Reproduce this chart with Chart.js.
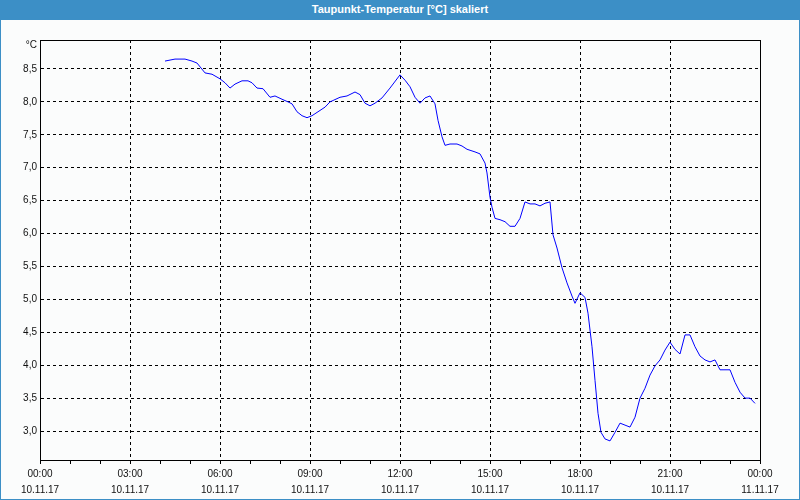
<!DOCTYPE html>
<html>
<head>
<meta charset="utf-8">
<script src="https://cdn.jsdelivr.net/npm/chart.js@4"></script>
<style>
  body { margin: 0; background: #fbfcfc; }
  #wrap { position: relative; width: 800px; height: 500px; }
  #chart { position: absolute; left: 0; top: 0; }
  #title {
    position: absolute; left: 0; top: 0; width: 800px; height: 20px;
    background: #3c8fc6; color: #fff; text-align: center;
    font: bold 11px "Liberation Sans", Arial, sans-serif; line-height: 18px;
  }
  #frame {
    position: absolute; left: 0; top: 0; width: 800px; height: 500px;
    box-sizing: border-box; border: 1px solid #3c8fc6; pointer-events: none;
  }
</style>
</head>
<body>
<div id="wrap">
  <canvas id="chart" width="800" height="500"></canvas>
  <div id="title">Taupunkt-Temperatur [°C] skaliert</div>
  <div id="frame"></div>
</div>
<script>
// minutes since 10.11.17 00:00
const minutes = [250, 270, 290, 304, 314, 330, 344, 360, 370, 380, 390, 404, 416, 424, 434, 446,
  460, 470, 484, 496, 504, 514, 524, 534, 544, 556, 570, 580, 600, 614, 630, 640,
  650, 660, 670, 684, 700, 720, 730, 740, 750, 760, 770, 780, 790, 796, 804, 810,
  820, 834, 844, 854, 870, 880, 890, 894, 900, 904, 910, 920, 930, 940, 950, 960,
  970, 980, 990, 1000, 1010, 1020, 1026, 1034, 1044, 1054, 1064, 1070, 1080, 1090, 1096, 1104,
  1110, 1116, 1122, 1130, 1140, 1150, 1160, 1170, 1180, 1190, 1200, 1210, 1220, 1230, 1240, 1250,
  1260, 1270, 1280, 1290, 1300, 1310, 1320, 1330, 1340, 1350, 1360, 1380, 1390, 1400, 1410, 1420, 1430];
const dewPoint = [8.62, 8.65, 8.65, 8.62, 8.59, 8.44, 8.42, 8.35, 8.29, 8.21, 8.27, 8.32, 8.32, 8.29, 8.21, 8.20,
  8.07, 8.09, 8.04, 8.00, 7.97, 7.85, 7.79, 7.76, 7.79, 7.85, 7.92, 8.00, 8.07, 8.09, 8.15, 8.11,
  7.98, 7.94, 7.98, 8.06, 8.21, 8.41, 8.33, 8.23, 8.07, 7.98, 8.06, 8.09, 7.97, 7.72, 7.47, 7.34,
  7.36, 7.36, 7.33, 7.28, 7.24, 7.21, 7.07, 6.92, 6.55, 6.40, 6.23, 6.21, 6.18, 6.11, 6.11, 6.23,
  6.48, 6.45, 6.45, 6.42, 6.46, 6.48, 5.98, 5.78, 5.48, 5.25, 5.05, 4.94, 5.10, 5.03, 4.79, 4.28,
  3.77, 3.27, 2.98, 2.88, 2.85, 2.98, 3.12, 3.09, 3.06, 3.21, 3.50, 3.65, 3.85, 3.99, 4.08, 4.23,
  4.35, 4.24, 4.17, 4.46, 4.46, 4.28, 4.14, 4.08, 4.05, 4.08, 3.93, 3.93, 3.74, 3.59, 3.50, 3.50, 3.42];
const yTicks = [3.0, 3.5, 4.0, 4.5, 5.0, 5.5, 6.0, 6.5, 7.0, 7.5, 8.0, 8.5];
const dates = ['10.11.17', '10.11.17', '10.11.17', '10.11.17', '10.11.17', '10.11.17', '10.11.17', '10.11.17', '11.11.17'];

const points = minutes.map((m, i) => ({ x: m, y: dewPoint[i] }));

Chart.defaults.font.family = '"Liberation Sans", Arial, sans-serif';
Chart.defaults.font.size = 10;
Chart.defaults.color = '#111';

const frameAndUnit = {
  id: 'frameAndUnit',
  afterDraw(chart) {
    const { ctx, chartArea: a } = chart;
    ctx.save();
    ctx.strokeStyle = '#000';
    ctx.lineWidth = 1;
    ctx.beginPath();
    ctx.moveTo(a.left + 0.5, a.top + 0.5);
    ctx.lineTo(a.right + 0.5, a.top + 0.5);
    ctx.lineTo(a.right + 0.5, a.bottom + 0.5);
    ctx.stroke();
    ctx.fillStyle = '#111';
    ctx.font = '10px "Liberation Sans", Arial, sans-serif';
    ctx.textAlign = 'right';
    ctx.textBaseline = 'middle';
    ctx.fillText('°C', a.left - 3, a.top + 5);
    ctx.restore();
  }
};

new Chart(document.getElementById('chart'), {
  type: 'line',
  data: {
    datasets: [{
      label: 'Taupunkt',
      data: points,
      borderColor: '#0000ff',
      borderWidth: 1,
      pointRadius: 0,
      tension: 0,
      fill: false
    }]
  },
  options: {
    responsive: false,
    animation: false,
    layout: { padding: { top: 40, right: 40, left: 0, bottom: 0 } },
    plugins: { legend: { display: false }, tooltip: { enabled: false } },
    scales: {
      x: {
        type: 'linear',
        min: 0,
        max: 1440,
        afterFit: s => { s.height = 40; },
        ticks: {
          stepSize: 60,
          autoSkip: false,
          maxRotation: 0,
          padding: 2,
          font: { size: 10, lineHeight: 1.6 },
          callback: v => {
            if (v % 180 !== 0) return '';
            const h = (v / 60) % 24;
            return [String(h).padStart(2, '0') + ':00', dates[v / 180]];
          }
        },
        grid: {
          color: c => (c.tick && c.tick.value % 180 === 0) ? '#000' : 'rgba(0,0,0,0)',
          tickColor: '#000',
          tickLength: 4
        },
        border: { color: '#000', dash: [3, 3] }
      },
      y: {
        type: 'linear',
        min: 2.56,
        max: 8.94,
        afterFit: s => { s.width = 40; },
        afterBuildTicks: s => { s.ticks = yTicks.map(v => ({ value: v })); },
        ticks: {
          padding: 3,
          callback: v => v.toFixed(1).replace('.', ',')
        },
        grid: { color: '#000', drawTicks: false },
        border: { color: '#000', dash: [3, 3] }
      }
    }
  },
  plugins: [frameAndUnit]
});
</script>
</body>
</html>
